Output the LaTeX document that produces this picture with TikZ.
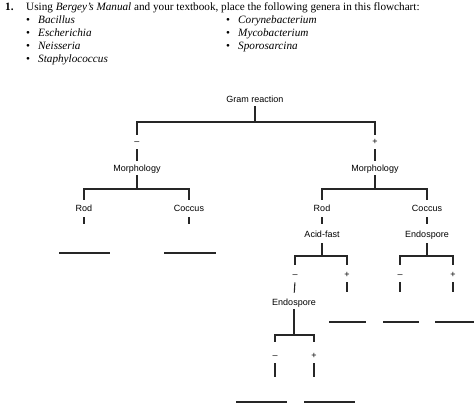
\documentclass[tikz,border=0pt]{standalone}
\usepackage{fontspec}
\setmainfont{Liberation Serif}
\newfontfamily\flowfont{Liberation Sans}
\begin{document}
\begin{tikzpicture}[x=1pt,y=-1pt,
  hdr/.style={anchor=base west,inner sep=0pt,font=\fontsize{11.2}{13}\selectfont},
  item/.style={anchor=base west,inner sep=0pt,font=\fontsize{11.2}{13}\selectfont\itshape},
  lbl/.style={inner sep=2pt,font=\flowfont\fontsize{9}{10}\selectfont,text height=6.4pt,text depth=1.8pt},
  tree/.style={line width=1.1pt,color=black!85},
  blank/.style={line width=1.3pt,color=black!85}]
\useasboundingbox (0,0) rectangle (474,406);
% header
\node[hdr,font=\fontsize{11.2}{13}\selectfont\bfseries] (num) at (5,11) {1.};
\node[hdr] (intro) at (26,11) {Using \textit{Bergey’s Manual} and your textbook, place the following genera in this flowchart:};
\node[hdr] (u1) at (26,24) {•}; \node[item] (g1) at (38,24) {Bacillus};
\node[hdr] (u2) at (26,37) {•}; \node[item] (g2) at (38,37) {Escherichia};
\node[hdr] (u3) at (26,50) {•}; \node[item] (g3) at (38,50) {Neisseria};
\node[hdr] (u4) at (26,63) {•}; \node[item] (g4) at (38,63) {Staphylococcus};
\node[hdr] (u5) at (226,24) {•}; \node[item] (g5) at (238,24) {Corynebacterium};
\node[hdr] (u6) at (226,37) {•}; \node[item] (g6) at (238,37) {Mycobacterium};
\node[hdr] (u7) at (226,50) {•}; \node[item] (g7) at (238,50) {Sporosarcina};
% flowchart level 1
\node[lbl] (gram) at (255,100) {Gram reaction};
\coordinate (gbar) at (255,122);
\node[lbl] (sL) at (137,142) {–};
\node[lbl] (sR) at (375,142) {+};
\draw[tree] (gram.south) -- (gbar);
\draw[tree,shorten <=1pt,shorten >=1pt] (sL.north) |- (gbar) -| (sR.north);
\node[lbl] (moL) at (137,169) {Morphology};
\node[lbl] (moR) at (375,169) {Morphology};
\draw[tree,shorten <=1pt,shorten >=2pt] (sL.south) -- (moL.north);
\draw[tree,shorten <=1pt,shorten >=2pt] (sR.south) -- (moR.north);
% left morphology
\coordinate (mbarL) at (137,189);
\node[lbl] (rodL) at (84,209) {Rod};
\node[lbl] (cocL) at (189,209) {Coccus};
\draw[tree] (moL.south) -- (mbarL);
\draw[tree,shorten <=3pt,shorten >=3pt] (rodL.north) |- (mbarL) -| (cocL.north);
\draw[tree,shorten <=2pt] (rodL.south) -- ++(0,9);
\draw[tree,shorten <=2pt] (cocL.south) -- ++(0,9);
% right morphology
\coordinate (mbarR) at (375,189);
\node[lbl] (rodR) at (322,209) {Rod};
\node[lbl] (cocR) at (427,209) {Coccus};
\draw[tree] (moR.south) -- (mbarR);
\draw[tree,shorten <=3pt,shorten >=3pt] (rodR.north) |- (mbarR) -| (cocR.north);
\node[lbl] (acid) at (322,235) {Acid-fast};
\node[lbl] (endA) at (427,235) {Endospore};
\draw[tree,shorten <=2pt,shorten >=5pt] (rodR.south) -- (acid.north);
\draw[tree,shorten <=2pt,shorten >=5pt] (cocR.south) -- (endA.north);
% acid-fast / endospore branches
\coordinate (abar) at (322,256);
\coordinate (ebar) at (427,256);
\node[lbl] (s1) at (295,275) {–};
\node[lbl] (s2) at (347,275) {+};
\node[lbl] (s3) at (400,275) {–};
\node[lbl] (s4) at (453,275) {+};
\draw[tree,shorten <=2pt] (acid.south) -- (abar);
\draw[tree,shorten <=2pt] (endA.south) -- (ebar);
\draw[tree,shorten <=4pt,shorten >=4pt] (s1.north) |- (abar) -| (s2.north);
\draw[tree,shorten <=4pt,shorten >=4pt] (s3.north) |- (ebar) -| (s4.north);
\node[lbl] (endB) at (294,303) {Endospore};
\draw[tree,shorten <=1pt,shorten >=4pt] (s1.south) -- (endB.north);
\draw[tree,shorten <=1pt] (s2.south) -- ++(0,11);
\draw[tree,shorten <=1pt] (s3.south) -- ++(0,11);
\draw[tree,shorten <=1pt] (s4.south) -- ++(0,11);
% endospore (rod, acid-fast negative)
\coordinate (bbar) at (294,335);
\node[lbl] (s5) at (275,356) {–};
\node[lbl] (s6) at (314,356) {+};
\draw[tree] (endB.south) -- (bbar);
\draw[tree,shorten <=8pt,shorten >=8pt] (s5.north) |- (bbar) -| (s6.north);
\draw[tree,shorten <=1pt] (s5.south) -- ++(0,15);
\draw[tree,shorten <=1pt] (s6.south) -- ++(0,15);
% answer blanks
\draw[blank] (59,253) -- (110,253);
\draw[blank] (164,253) -- (216,253);
\draw[blank] (329,322) -- (366,322);
\draw[blank] (383,322) -- (419,322);
\draw[blank] (435,322) -- (474,322);
\draw[blank] (236,402) -- (287,402);
\draw[blank] (304,402) -- (355,402);
\end{tikzpicture}
\end{document}
